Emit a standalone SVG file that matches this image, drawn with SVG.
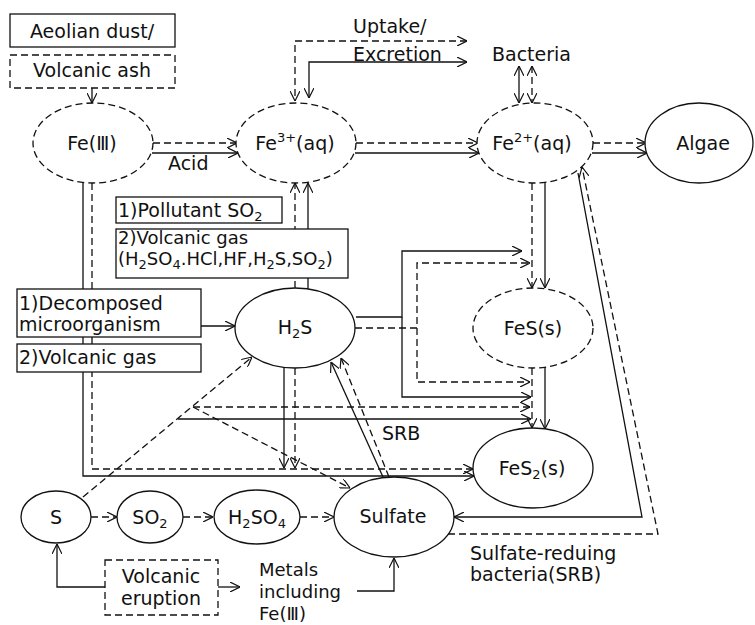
<svg xmlns="http://www.w3.org/2000/svg" width="755" height="625" viewBox="0 0 755 625">
<style>
text{font-family:"DejaVu Sans","Liberation Sans",sans-serif;font-size:19px;fill:#111}
.c{text-anchor:middle}
.sub{font-size:13px}
.t18{font-size:18px}
.s{fill:none;stroke:#111;stroke-width:1.3}
.d{fill:none;stroke:#111;stroke-width:1.3;stroke-dasharray:7 4}
.ns{fill:#fff;stroke:#111;stroke-width:1.3}
.nd{fill:#fff;stroke:#111;stroke-width:1.3;stroke-dasharray:7 4}
</style>
<defs>
<marker id="a" viewBox="0 0 10 10" refX="10" refY="5" markerWidth="10" markerHeight="10" markerUnits="userSpaceOnUse" orient="auto-start-reverse">
<path d="M0,0 L10,5 L0,10" fill="none" stroke="#111" stroke-width="1.2"/>
</marker>
</defs>
<g id="connectors">
<path class="s" d="M92,88 L92,103" marker-end="url(#a)"/>
<path class="d" d="M153,143 L237,143" marker-end="url(#a)"/>
<path class="s" d="M152,153 L238,153" marker-end="url(#a)"/>
<path class="d" d="M356,143 L478,143" marker-end="url(#a)"/>
<path class="s" d="M355,153 L479,153" marker-end="url(#a)"/>
<path class="d" d="M593,143 L646,143" marker-end="url(#a)"/>
<path class="s" d="M592,153 L647,153" marker-end="url(#a)"/>
<path class="d" d="M467,41 L295,41 L295,101" marker-start="url(#a)" marker-end="url(#a)"/>
<path class="s" d="M467,62 L309,62 L309,98" marker-start="url(#a)" marker-end="url(#a)"/>
<path class="s" d="M519,66 L519,103" marker-start="url(#a)" marker-end="url(#a)"/>
<path class="d" d="M532,66 L532,103" marker-start="url(#a)" marker-end="url(#a)"/>
<path class="d" d="M532,183 L532,288" marker-end="url(#a)"/>
<path class="s" d="M545,182 L545,288" marker-end="url(#a)"/>
<path class="d" d="M532,368 L532,428" marker-end="url(#a)"/>
<path class="s" d="M545,367 L545,429" marker-end="url(#a)"/>
<path class="d" d="M295,288 L295,183" marker-end="url(#a)"/>
<path class="s" d="M308,289 L308,183" marker-end="url(#a)"/>
<path class="s" d="M83,182 L83,476 L474,476" marker-end="url(#a)"/>
<path class="d" d="M92,183 L92,469 L473,469" marker-end="url(#a)"/>
<path class="s" d="M201,326 L235,326" marker-end="url(#a)"/>
<path class="s" d="M356,317 L402,317 L402,251 L522,251" marker-end="url(#a)"/>
<path class="s" d="M402,317 L402,397 L531,397" marker-end="url(#a)"/>
<path class="d" d="M355,328 L417,328 L417,263 L530,263" marker-end="url(#a)"/>
<path class="d" d="M417,328 L417,382 L530,382" marker-end="url(#a)"/>
<path class="d" d="M193,407 L530,407" marker-end="url(#a)"/>
<path class="s" d="M178,419 L531,419" marker-end="url(#a)"/>
<path class="s" d="M284,367 L284,468" marker-end="url(#a)"/>
<path class="d" d="M295,368 L295,468" marker-end="url(#a)"/>
<path class="d" d="M83,497 L252,357" marker-end="url(#a)"/>
<path class="d" d="M193,407 L350,488" marker-end="url(#a)"/>
<path class="s" d="M383,477 L331,362" marker-end="url(#a)"/>
<path class="d" d="M389,477 L341,358" marker-end="url(#a)"/>
<path class="s" d="M578,173 L642,517 L454,517" marker-end="url(#a)"/>
<path class="d" d="M448,534 L658,534 L582,167" marker-end="url(#a)"/>
<path class="d" d="M91,517 L117,517" marker-end="url(#a)"/>
<path class="d" d="M183,517 L213,517" marker-end="url(#a)"/>
<path class="d" d="M300,517 L334,517" marker-end="url(#a)"/>
<path class="s" d="M105,587 L57,587 L57,544" marker-end="url(#a)"/>
<path class="s" d="M218,587 L240,587" marker-end="url(#a)"/>
<path class="s" d="M357,591 L394,591 L394,558" marker-end="url(#a)"/>
</g>
<g id="labels">
<text x="353" y="33">Uptake/</text>
<text x="353" y="61">Excretion</text>
<text x="168" y="170">Acid</text>
<text x="382" y="440">SRB</text>
<text x="470" y="560">Sulfate-reduing</text>
<text x="470" y="581">bacteria(SRB)</text>
<text class="t18" x="259" y="576">Metals</text>
<text class="t18" x="259" y="598">including</text>
<text class="t18" x="259" y="620">Fe(Ⅲ)</text>
</g>
<g id="aeolian"><rect class="ns" x="10" y="14" width="165" height="33"/><text class="c" x="92" y="38">Aeolian dust/</text></g>
<g id="volcanic-ash"><rect class="nd" x="10" y="55" width="165" height="33"/><text class="c" x="92" y="77">Volcanic ash</text></g>
<g id="fe3"><ellipse class="nd" cx="93" cy="143" rx="60" ry="40"/><text class="c" x="92" y="150">Fe(Ⅲ)</text></g>
<g id="fe3aq"><ellipse class="nd" cx="296" cy="143" rx="60" ry="40"/><text class="c" x="295" y="150">Fe<tspan class="sub" dy="-8">3+</tspan><tspan dy="8">(aq)</tspan></text></g>
<g id="fe2aq"><ellipse class="nd" cx="535" cy="143" rx="58" ry="40"/><text class="c" x="532" y="150">Fe<tspan class="sub" dy="-8">2+</tspan><tspan dy="8">(aq)</tspan></text></g>
<g id="algae"><ellipse class="ns" cx="699" cy="143" rx="54" ry="40"/><text class="c" x="703" y="150">Algae</text></g>
<g id="bacteria"><text x="492" y="61">Bacteria</text></g>
<g id="pollutant"><rect class="ns" x="116" y="197" width="166" height="26"/><text x="118" y="217">1)Pollutant SO<tspan class="sub" dy="4">2</tspan></text></g>
<g id="volcanic-gas-1"><rect class="ns" x="116" y="229" width="232" height="49"/><text class="t18" x="118" y="244">2)Volcanic gas</text><text class="t18" x="118" y="265">(H<tspan class="sub" dy="4">2</tspan><tspan dy="-4">SO</tspan><tspan class="sub" dy="4">4</tspan><tspan dy="-4">.HCl,HF,H</tspan><tspan class="sub" dy="4">2</tspan><tspan dy="-4">S,SO</tspan><tspan class="sub" dy="4">2</tspan><tspan dy="-4">)</tspan></text></g>
<g id="decomposed"><rect class="ns" x="17" y="289" width="184" height="48"/><text x="19" y="310">1)Decomposed</text><text x="19" y="331">microorganism</text></g>
<g id="volcanic-gas-2"><rect class="ns" x="17" y="344" width="184" height="28"/><text x="19" y="364">2)Volcanic gas</text></g>
<g id="h2s"><ellipse class="ns" cx="295" cy="328" rx="60" ry="40"/><text class="c" x="295" y="334">H<tspan class="sub" dy="4">2</tspan><tspan dy="-4">S</tspan></text></g>
<g id="fes"><ellipse class="nd" cx="533" cy="328" rx="60" ry="40"/><text class="c" x="533" y="335">FeS(s)</text></g>
<g id="fes2"><ellipse class="ns" cx="533" cy="468" rx="60" ry="40"/><text class="c" x="532" y="475">FeS<tspan class="sub" dy="4">2</tspan><tspan dy="-4">(s)</tspan></text></g>
<g id="s"><ellipse class="ns" cx="56" cy="517" rx="35" ry="26"/><text class="c" x="56" y="524">S</text></g>
<g id="so2"><ellipse class="ns" cx="150" cy="517" rx="33" ry="26"/><text class="c" x="150" y="524">SO<tspan class="sub" dy="4">2</tspan></text></g>
<g id="h2so4"><ellipse class="ns" cx="257" cy="517" rx="43" ry="27"/><text class="c" x="257" y="524">H<tspan class="sub" dy="4">2</tspan><tspan dy="-4">SO</tspan><tspan class="sub" dy="4">4</tspan></text></g>
<g id="sulfate"><ellipse class="ns" cx="394" cy="517" rx="60" ry="40"/><text class="c" x="393" y="523">Sulfate</text></g>
<g id="eruption"><rect class="nd" x="105" y="560" width="113" height="55"/><text class="c" x="161" y="583">Volcanic</text><text class="c" x="161" y="605">eruption</text></g>
</svg>
